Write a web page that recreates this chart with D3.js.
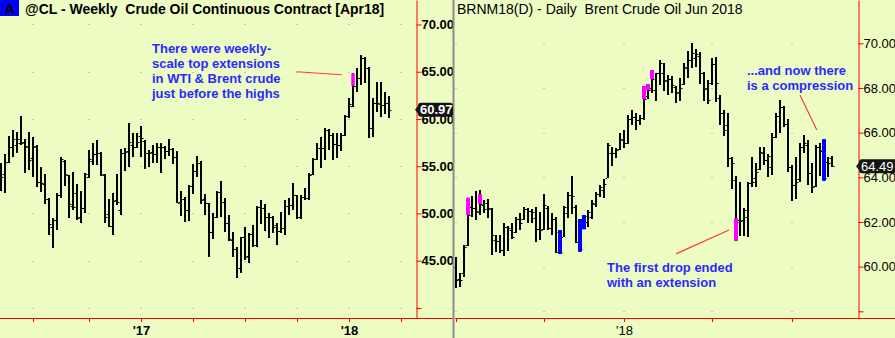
<!DOCTYPE html>
<html>
<head>
<meta charset="utf-8">
<script src="https://cdnjs.cloudflare.com/ajax/libs/d3/7.8.5/d3.min.js"></script>
<style>
  html, body { margin:0; padding:0; background:#edfcc3; overflow:hidden; }
  svg { display:block; font-family:"Liberation Sans", Arial, sans-serif; }
</style>
</head>
<body>
<div id="canvas"></div>
<script>
// --- weekly @CL (left panel), one bar per week ---
var wtiOpen = [54.07,54.17,55.48,57.00,57.24,57.49,57.59,57.06,55.84,57.14,53.36,53.12,51.50,48.60,49.31,51.95,55.58,54.07,50.79,52.13,
  49.66,50.54,53.89,55.58,56.29,56.43,54.07,49.94,48.67,51.42,50.36,56.43,56.64,57.24,57.06,58.19,57.70,56.37,56.54,56.29,
  57.00,57.00,56.64,56.79,56.00,51.24,51.50,50.36,52.90,54.52,55.31,51.50,51.07,48.07,49.59,52.30,51.24,49.02,47.19,46.21,
  44.19,47.48,45.50,47.83,46.66,50.65,50.54,49.66,49.66,48.78,48.14,48.43,50.82,50.89,51.95,49.66,51.77,51.66,54.14,55.76,
  56.89,56.89,58.83,58.30,57.32,57.24,58.30,60.34,61.40,63.52,64.36,66.42,65.36,59.07,61.66,61.55,61.47,61.66];
var wtiHigh = [55.31,56.29,58.19,58.83,58.65,60.31,57.85,58.62,58.06,57.24,54.95,54.17,51.60,49.49,52.13,55.94,55.65,54.07,54.42,53.12,
  52.41,54.31,56.71,57.42,57.77,56.54,54.17,51.50,52.13,54.17,56.79,56.89,59.54,58.48,58.51,59.25,57.77,56.71,57.24,57.49,
  57.42,57.14,57.85,56.89,56.64,52.41,51.77,53.01,55.23,56.08,55.58,52.06,51.14,50.01,52.41,53.47,51.60,49.83,48.07,46.48,
  47.54,48.60,47.96,48.78,50.79,51.42,51.00,50.01,49.70,48.96,50.19,51.42,51.60,53.19,52.00,51.95,52.66,54.25,55.84,57.42,
  58.12,59.01,58.94,58.48,58.48,58.48,60.42,62.19,64.83,65.36,66.77,66.59,65.53,62.19,63.94,63.88,62.82,62.46];
var wtiLow = [52.41,52.19,55.31,55.94,56.37,57.24,54.31,54.60,53.83,52.77,52.30,51.00,47.72,46.38,48.25,51.60,52.90,49.49,50.36,49.31,
  48.96,50.01,53.72,55.13,55.13,53.96,49.02,48.60,47.72,50.89,49.83,54.52,54.95,56.00,56.93,56.00,54.67,54.88,55.31,55.37,
  54.31,55.79,56.08,55.23,51.07,49.73,49.13,49.23,52.06,53.83,51.00,49.83,45.42,47.26,49.49,49.59,48.07,47.12,45.36,43.14,
  43.73,45.07,44.79,46.48,46.48,48.88,48.17,47.37,47.90,46.66,47.90,47.72,49.83,50.36,49.41,49.41,51.42,51.42,54.05,55.70,
  54.84,55.65,56.71,55.65,55.90,56.61,58.25,60.07,61.30,62.82,63.59,63.77,58.02,58.12,60.77,60.24,60.49,60.13];
var wtiClose = [53.89,55.48,57.00,57.85,57.85,57.42,57.14,55.65,57.06,53.36,53.19,51.50,48.88,49.31,51.95,55.73,54.17,51.00,50.65,49.49,
  50.54,54.17,55.73,56.29,56.37,54.17,49.66,48.67,51.35,51.24,56.43,56.54,57.59,57.00,57.59,57.95,56.37,56.43,56.29,57.00,
  57.00,56.64,56.79,56.00,51.14,51.50,50.36,52.90,54.52,55.37,51.42,51.14,48.07,49.59,52.30,51.24,49.02,47.26,46.21,44.19,
  47.48,45.42,47.83,46.66,50.65,50.54,49.66,49.66,48.60,48.14,48.43,50.82,50.89,51.95,49.66,51.77,51.66,54.07,55.76,56.89,
  56.95,58.83,58.30,57.32,57.24,58.30,60.34,61.55,63.52,64.36,66.42,65.36,59.07,61.66,61.66,61.47,61.66,60.97];

// --- daily Brent Jun 2018 (right panel), one bar per session ---
var brentOpen = [60.00,59.44,59.70,60.95,62.66,62.61,62.45,62.76,62.84,62.57,61.19,61.16,60.75,61.79,61.64,61.55,62.12,62.14,62.57,62.51,
  62.17,61.67,61.69,62.61,61.72,62.12,61.55,61.34,62.39,63.21,62.69,62.05,61.73,62.01,62.21,62.81,63.25,63.43,63.98,65.10,
  65.08,65.26,65.67,65.52,66.60,66.69,66.57,66.66,67.64,68.00,67.91,68.66,68.68,68.36,68.39,68.06,67.83,68.18,68.88,69.25,
  69.33,69.43,68.68,67.99,68.21,69.07,67.54,66.87,66.34,64.85,63.88,62.09,62.09,62.24,63.73,63.97,64.37,65.10,64.78,64.48,
  65.79,66.75,67.14,66.39,64.48,63.66,63.91,65.34,65.45,64.21,63.61,65.34,65.22,64.70,64.85];
var brentHigh = [60.45,59.70,60.97,63.09,63.16,63.40,63.41,62.99,63.03,62.61,61.42,61.42,61.94,61.82,61.94,62.21,62.39,62.66,62.61,62.57,
  62.66,62.46,63.25,62.72,62.39,62.21,61.64,62.72,63.36,64.06,62.76,62.13,62.31,62.54,62.99,63.36,63.66,63.91,65.52,65.37,
  65.30,65.97,66.12,66.79,67.01,66.87,66.79,68.09,68.18,68.80,68.68,69.25,69.10,68.58,68.54,68.09,68.43,69.10,69.67,70.00,
  69.73,69.61,68.72,68.36,69.33,69.37,67.69,67.01,66.89,64.92,64.06,63.80,62.61,63.80,64.92,64.63,65.34,65.34,65.04,66.00,
  66.87,67.46,67.19,66.60,64.55,64.92,65.55,65.90,65.67,64.63,65.45,65.52,65.70,64.92,64.95];
var brentLow = [59.03,59.10,59.55,60.93,62.24,62.09,62.31,62.39,62.17,60.52,60.67,60.60,60.48,60.72,61.23,61.50,61.64,62.09,61.94,61.94,
  61.12,61.19,61.64,61.64,61.42,60.63,60.57,61.32,62.17,62.36,61.05,60.67,61.67,61.79,62.12,62.69,63.13,63.06,63.96,64.51,
  64.85,65.22,65.30,65.49,66.34,66.12,66.34,66.57,67.51,67.78,67.43,68.13,67.88,67.69,67.76,67.34,67.43,68.13,68.43,68.88,
  68.95,68.18,67.43,67.28,68.13,67.39,66.34,65.85,64.48,63.46,61.16,61.37,61.37,61.34,63.58,63.58,64.33,64.55,64.03,64.10,
  65.75,65.97,66.27,64.25,62.95,63.02,63.80,65.10,63.66,63.29,63.58,64.06,63.85,64.03,64.48];
var brentClose = [59.40,59.40,60.90,62.31,62.61,62.51,62.81,62.57,62.61,61.42,61.16,60.75,61.79,61.72,61.34,62.12,61.94,62.57,62.51,62.46,
  61.67,61.64,62.76,61.72,62.12,60.67,60.66,62.66,63.21,63.16,61.12,60.79,62.27,62.46,62.84,63.25,63.58,63.70,65.45,65.08,
  65.22,65.70,65.52,66.60,66.69,66.57,66.64,67.49,67.91,68.40,68.66,69.10,68.33,68.39,68.13,67.79,67.99,68.93,69.25,69.55,
  69.52,68.68,67.94,67.46,69.07,68.21,66.89,66.12,64.85,64.63,62.00,62.06,62.54,63.73,63.80,64.25,65.15,64.78,64.96,65.79,
  66.75,67.16,66.39,64.48,63.66,63.80,65.34,65.52,64.21,63.58,65.34,65.19,63.97,64.63,64.49];

// coloured extension / compression marks: bar index, top, bottom
var wtiMarkIdx = [88], wtiMarkTop = [64.83], wtiMarkBot = [63.52], wtiMarkKind = ['ext'];
var brentMarkIdx  = [3, 6, 26, 31, 32, 47, 48, 49, 70, 92];
var brentMarkTop  = [63.09, 63.25, 61.64, 62.13, 62.31, 68.09, 68.18, 68.80, 62.17, 65.70];
var brentMarkBot  = [62.31, 62.81, 60.57, 60.67, 61.67, 67.49, 67.91, 68.40, 61.16, 63.85];
var brentMarkKind = ['ext','ext','cmp','cmp','cmp','ext','ext','ext','ext','cmp'];

// axis ticks
var wtiTickIdx = [8, 22, 35, 48, 61, 74, 87, 100];
var wtiTickLabel = {35: "'17", 87: "'18"};
var brentTickIdx = [0, 22, 42, 64, 84];
var brentTickLabel = {42: "'18"};
var wtiPriceTicks = [40, 45, 50, 55, 60, 65, 70];
var brentPriceTicks = [58, 60, 62, 64, 66, 68, 70];
var wtiLast = 60.97, brentLast = 64.49;

var markColor = {ext: '#ff00ff', cmp: '#0000ff'};
var bg = '#edfcc3';

var W = 895, H = 338, base = 318;

var svg = d3.select('#canvas')
    .append('svg')
    .attr('width', W)
    .attr('height', H);
svg.append('rect').attr('width', W).attr('height', H).attr('fill', bg);

// scales
var xL = d3.scaleLinear().domain([-0.25, 103.75]).range([0, 416]);
var yL = d3.scaleLinear().domain([38.94, 72.59]).range([base, 0]);
var xR = d3.scaleLinear().domain([-0.25, 100.5]).range([455, 858]);
var yR = d3.scaleLinear().domain([57.70, 71.94]).range([base, 0]);

function rows(o, h, l, c){
    return o.map(function(v, i){
        return {i: i, open: v, high: h[i], low: l[i], close: c[i]};
    });
}
function marks(idx, top, bot, kind){
    return idx.map(function(v, k){
        return {i: v, top: top[k], bot: bot[k], kind: kind[k]};
    });
}

// faint grid dots at tick crossings
function gridDots(x, y, xs, ys){
    var pts = [];
    xs.forEach(function(a){ ys.forEach(function(b){ pts.push([a, b]); }); });
    svg.append('g').selectAll('rect').data(pts).enter().append('rect')
        .attr('x', function(d){ return Math.round(x(d[0])) - 1; })
        .attr('y', function(d){ return Math.round(y(d[1])); })
        .attr('width', 2).attr('height', 1)
        .attr('fill', '#c4c9b4');
}
gridDots(xL, yL, wtiTickIdx, wtiPriceTicks);
gridDots(xR, yR, brentTickIdx, brentPriceTicks);

function draw(data, mk, x, y, mw){
    var g = svg.append('g');
    var bar = g.selectAll('g').data(data).enter().append('g');
    bar.append('rect')
        .attr('x', function(d){ return Math.round(x(d.i)) - 1; })
        .attr('y', function(d){ return Math.round(y(d.high)); })
        .attr('width', 2)
        .attr('height', function(d){ return Math.max(1, Math.round(y(d.low)) - Math.round(y(d.high))); })
        .attr('fill', '#000');
    bar.append('rect')
        .attr('x', function(d){ return Math.round(x(d.i)) - 2.5; })
        .attr('y', function(d){ return Math.round(y(d.open)); })
        .attr('width', 1.5).attr('height', 1).attr('fill', '#000');
    bar.append('rect')
        .attr('x', function(d){ return Math.round(x(d.i)) + 1; })
        .attr('y', function(d){ return Math.round(y(d.close)); })
        .attr('width', 1.5).attr('height', 1).attr('fill', '#000');

    g.selectAll('rect.mk').data(mk).enter().append('rect')
        .attr('class', 'mk')
        .attr('x', function(d){ return Math.round(x(d.i)) - mw / 2; })
        .attr('y', function(d){ return y(d.top); })
        .attr('width', mw)
        .attr('height', function(d){ return y(d.bot) - y(d.top); })
        .attr('fill', function(d){ return markColor[d.kind]; });
}
draw(rows(wtiOpen, wtiHigh, wtiLow, wtiClose), marks(wtiMarkIdx, wtiMarkTop, wtiMarkBot, wtiMarkKind), xL, yL, 3.5);
draw(rows(brentOpen, brentHigh, brentLow, brentClose), marks(brentMarkIdx, brentMarkTop, brentMarkBot, brentMarkKind), xR, yR, 4);

// axes
function priceAxis(y, ticks, xpos, bold, skip){
    var ax = d3.axisRight(y).tickValues(ticks).tickSize(5).tickSizeOuter(0).tickPadding(0)
        .tickFormat(function(d){ return d === skip ? '' : d3.format('.2f')(d); });
    var g = svg.append('g').attr('transform', 'translate(' + xpos + ',0)').call(ax);
    g.select('.domain').attr('stroke', '#ff0000');
    g.selectAll('.tick line').attr('stroke', '#ff0000');
    g.selectAll('.tick text').attr('fill', '#000')
        .style('font-size', '13px')
        .style('font-weight', bold ? 'bold' : 'normal')
        .style('font-family', '"Liberation Sans", Arial, sans-serif');
}
function timeAxis(x, ticks, labels, bold){
    var ax = d3.axisBottom(x).tickValues(ticks).tickSize(4).tickSizeOuter(0).tickPadding(4)
        .tickFormat(function(d){ return labels[d] || ''; });
    var g = svg.append('g').attr('transform', 'translate(0,' + base + ')').call(ax);
    g.select('.domain').remove();
    g.selectAll('.tick line').attr('stroke', '#ff0000');
    g.selectAll('.tick text').attr('fill', '#000')
        .style('font-size', '13px')
        .style('font-weight', bold ? 'bold' : 'normal')
        .style('font-family', '"Liberation Sans", Arial, sans-serif');
}
timeAxis(xL, wtiTickIdx, wtiTickLabel, true);
timeAxis(xR, brentTickIdx, brentTickLabel, false);
svg.append('line').attr('x1', 0).attr('x2', 453).attr('y1', base + 0.5).attr('y2', base + 0.5).attr('stroke', '#ff0000');
svg.append('line').attr('x1', 455).attr('x2', W).attr('y1', base + 0.5).attr('y2', base + 0.5).attr('stroke', '#ff0000');
priceAxis(yL, wtiPriceTicks, 416.5, true, 40);
priceAxis(yR, brentPriceTicks, 858.5, false, 58);

// panel divider
svg.append('rect').attr('x', 452.5).attr('y', 0).attr('width', 2).attr('height', H).attr('fill', '#8c8c8c');

// last-price tags (they sit over the axis label, as in the source)
function tag(xTip, yv, w, label, bold){
    var g = svg.append('g');
    var x0 = xTip + 3;
    g.append('path')
        .attr('d', 'M' + xTip + ',' + yv + 'L' + (x0 + 2) + ',' + (yv - 6) + 'L' + (x0 + 2) + ',' + (yv + 6) + 'Z')
        .attr('fill', '#141414');
    g.append('rect').attr('x', x0).attr('y', yv - 7).attr('width', w).attr('height', 14)
        .attr('rx', 3).attr('fill', '#141414');
    g.append('text').attr('x', x0 + 2).attr('y', yv).attr('dy', '0.36em')
        .attr('fill', '#fff')
        .style('font-size', '13px').style('font-weight', bold ? 'bold' : 'normal')
        .text(label);
}
tag(415, yL(wtiLast), 35, d3.format('.2f')(wtiLast), true);
tag(856, yR(brentLast), 40, d3.format('.2f')(brentLast), false);

// titles
svg.append('rect').attr('x', 0).attr('y', 0).attr('width', 19).attr('height', 16).attr('fill', '#0000ff');
svg.append('text').attr('x', 9.5).attr('y', 13.5).attr('text-anchor', 'middle')
    .style('font-size', '14px').style('font-weight', 'bold').attr('fill', '#000').text('A');
svg.append('text').attr('x', 25).attr('y', 14).style('white-space', 'pre')
    .style('font-size', '14px').style('font-weight', 'bold').attr('fill', '#000')
    .text('@CL - Weekly  Crude Oil Continuous Contract [Apr18]');
svg.append('text').attr('x', 457).attr('y', 14).style('white-space', 'pre')
    .style('font-size', '14px').attr('fill', '#000')
    .text('BRNM18(D) - Daily  Brent Crude Oil Jun 2018');

// annotations (anchored in data space)
function note(x, y, i, p, lines){
    var t = svg.append('text').attr('fill', '#2a2aff')
        .style('font-size', '13px').style('font-weight', 'bold');
    lines.forEach(function(s, k){
        t.append('tspan').attr('x', x(i)).attr('y', y(p) + k * 15).text(s);
    });
}
function pointer(x, y, a, b){
    svg.append('line')
        .attr('x1', x(a[0])).attr('y1', y(a[1]))
        .attr('x2', x(b[0])).attr('y2', y(b[1]))
        .attr('stroke', '#ff3b3b').attr('stroke-width', 1.2);
}
note(xL, yL, 37.75, 66.98, ['There were weekly-', 'scale top extensions', 'in WTI & Brent crude', 'just before the highs']);
pointer(xL, yL, [73.9, 65.0], [85.2, 64.68]);
note(xR, yR, 72.75, 68.58, ['...and now there', 'is a compression']);
pointer(xR, yR, [86, 67.69], [90.2, 66.12]);
note(xR, yR, 37.75, 59.77, ['The first drop ended', 'with an extension']);
pointer(xR, yR, [55, 60.57], [68.25, 61.64]);
</script>
</body>
</html>
